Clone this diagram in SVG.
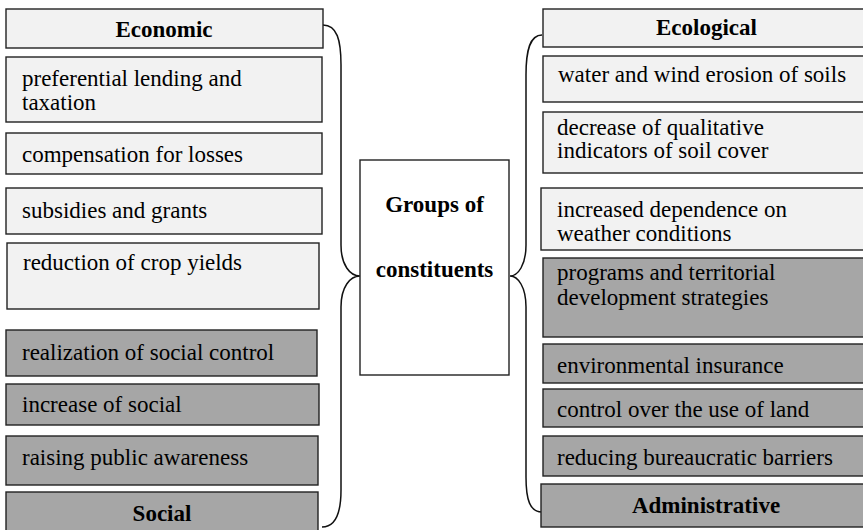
<svg xmlns="http://www.w3.org/2000/svg" width="863" height="530" viewBox="0 0 863 530">
<style>
.l{fill:#f2f2f2;stroke:#222;stroke-width:1.4}
.d{fill:#a6a6a6;stroke:#222;stroke-width:1.4}
.c{fill:#fff;stroke:#222;stroke-width:1.4}
.br{fill:none;stroke:#111;stroke-width:1.5}
</style>
<rect width="863" height="530" fill="#fff"/>
<g id="connectors">
<path class="br" d="M323,25 C337,25 341,40 341,65 L341,245 C341,265 350,276 360,276 C350,276 341,287 341,307 L341,490 C341,515 335,527 322,527"/>
<path class="br" d="M542,35 C530,35 526,50 526,75 L526,245 C526,265 518,276 510,276 C518,276 526,287 526,307 L526,477 C526,500 530,512 542,512"/>
</g>
<g id="center"><rect class="c" x="360" y="160" width="149" height="215"/><text font-family="Liberation Serif" font-size="23" font-weight="bold" text-anchor="middle" x="434.5" y="212">Groups of</text><text font-family="Liberation Serif" font-size="23" font-weight="bold" text-anchor="middle" x="434.5" y="277">constituents</text></g>
<g id="economic"><rect class="l" x="6" y="9" width="317" height="39"/><text font-family="Liberation Serif" font-size="23" font-weight="bold" text-anchor="middle" x="164" y="37">Economic</text></g>
<g id="e1"><rect class="l" x="6" y="57" width="316" height="65"/><text font-family="Liberation Serif" font-size="23" x="22" y="86">preferential lending and</text><text font-family="Liberation Serif" font-size="23" x="22" y="110">taxation</text></g>
<g id="e2"><rect class="l" x="6" y="133" width="316" height="41"/><text font-family="Liberation Serif" font-size="23" x="22" y="162">compensation for losses</text></g>
<g id="e3"><rect class="l" x="6" y="188" width="316" height="46"/><text font-family="Liberation Serif" font-size="23" x="22" y="218">subsidies and grants</text></g>
<g id="e4"><rect class="l" x="7" y="243" width="312" height="66"/><text font-family="Liberation Serif" font-size="23" x="23" y="270">reduction of crop yields</text></g>
<g id="s1"><rect class="d" x="6" y="330" width="311" height="46"/><text font-family="Liberation Serif" font-size="23" x="22" y="360">realization of social control</text></g>
<g id="s2"><rect class="d" x="6" y="384" width="313" height="41"/><text font-family="Liberation Serif" font-size="23" x="22" y="412">increase of social</text></g>
<g id="s3"><rect class="d" x="6" y="436" width="312" height="49"/><text font-family="Liberation Serif" font-size="23" x="22" y="465">raising public awareness</text></g>
<g id="social"><rect class="d" x="6" y="492" width="312" height="45"/><text font-family="Liberation Serif" font-size="23" font-weight="bold" text-anchor="middle" x="162" y="521">Social</text></g>
<g id="ecological"><rect class="l" x="543" y="9" width="327" height="38"/><text font-family="Liberation Serif" font-size="23" font-weight="bold" text-anchor="middle" x="706.5" y="35">Ecological</text></g>
<g id="g1"><rect class="l" x="543" y="56" width="327" height="46"/><text font-family="Liberation Serif" font-size="23" x="558" y="82">water and wind erosion of soils</text></g>
<g id="g2"><rect class="l" x="543" y="112" width="327" height="61"/><text font-family="Liberation Serif" font-size="23" x="557" y="135">decrease of qualitative</text><text font-family="Liberation Serif" font-size="23" x="557" y="158">indicators of soil cover</text></g>
<g id="g3"><rect class="l" x="541" y="188" width="329" height="62"/><text font-family="Liberation Serif" font-size="23" x="557" y="217">increased dependence on</text><text font-family="Liberation Serif" font-size="23" x="557" y="241">weather conditions</text></g>
<g id="a1"><rect class="d" x="543" y="258" width="327" height="79"/><text font-family="Liberation Serif" font-size="23" x="557" y="280">programs and territorial</text><text font-family="Liberation Serif" font-size="23" x="557" y="305">development strategies</text></g>
<g id="a2"><rect class="d" x="543" y="344" width="327" height="39"/><text font-family="Liberation Serif" font-size="23" x="557" y="373">environmental insurance</text></g>
<g id="a3"><rect class="d" x="543" y="389" width="327" height="38"/><text font-family="Liberation Serif" font-size="23" x="557" y="417">control over the use of land</text></g>
<g id="a4"><rect class="d" x="543" y="436" width="327" height="40"/><text font-family="Liberation Serif" font-size="23" x="557" y="465">reducing bureaucratic barriers</text></g>
<g id="administrative"><rect class="d" x="541" y="484" width="329" height="43"/><text font-family="Liberation Serif" font-size="23" font-weight="bold" text-anchor="middle" x="706" y="513">Administrative</text></g>
</svg>
